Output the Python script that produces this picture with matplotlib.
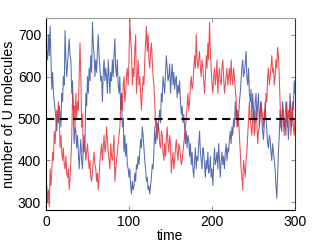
import matplotlib
matplotlib.use("Agg")
import matplotlib.pyplot as plt

time = list(range(0, 301))

blue_v = [620, 660, 640, 700, 650, 720, 640, 570, 610, 560,
          540, 520, 500, 470, 510, 490, 530, 510, 480, 560,
          540, 600, 580, 710, 640, 600, 630, 660, 690, 650,
          640, 560, 590, 510, 440, 480, 470, 430, 460, 420,
          380, 420, 450, 400, 380, 440, 420, 450, 560, 530,
          600, 560, 620, 590, 650, 610, 730, 680, 650, 600,
          640, 610, 660, 700, 650, 620, 590, 600, 540, 610,
          640, 590, 620, 600, 560, 640, 600, 560, 610, 590,
          640, 600, 650, 690, 620, 600, 640, 580, 560, 600,
          520, 560, 480, 500, 420, 460, 410, 440, 390, 380,
          360, 380, 340, 320, 350, 330, 340, 370, 350, 390,
          380, 410, 390, 420, 450, 430, 480, 460, 430, 400,
          380, 350, 360, 330, 340, 320, 340, 360, 390, 380,
          420, 480, 440, 460, 490, 470, 500, 520, 490, 560,
          540, 600, 580, 560, 610, 650, 620, 590, 600, 630,
          560, 600, 630, 580, 610, 570, 590, 600, 550, 580,
          560, 590, 540, 510, 530, 490, 510, 480, 440, 470,
          430, 460, 450, 410, 440, 390, 420, 380, 360, 400,
          430, 380, 410, 400, 440, 470, 420, 400, 380, 430,
          420, 390, 360, 400, 380, 420, 370, 380, 410, 360,
          380, 340, 390, 430, 390, 400, 420, 380, 440, 400,
          360, 400, 420, 390, 410, 380, 420, 440, 400, 430,
          420, 450, 470, 440, 480, 460, 500, 480, 540, 500,
          520, 480, 500, 540, 560, 590, 620, 640, 600, 610,
          630, 660, 600, 580, 620, 560, 540, 570, 500, 560,
          520, 490, 540, 560, 500, 530, 560, 480, 520, 540,
          500, 470, 450, 490, 540, 500, 470, 440, 430, 460,
          450, 420, 400, 440, 420, 400, 380, 340, 310, 360,
          420, 460, 520, 480, 470, 540, 520, 480, 500, 460,
          540, 500, 450, 490, 560, 520, 480, 540, 520, 590,
          560]

red_v = [320, 340, 300, 330, 290, 380, 340, 370, 420, 400,
         470, 440, 480, 520, 500, 540, 500, 430, 460, 420,
         400, 430, 390, 380, 410, 370, 360, 380, 330, 360,
         400, 450, 560, 520, 530, 480, 560, 500, 540, 520,
         600, 680, 600, 480, 510, 420, 460, 440, 400, 420,
         440, 410, 380, 400, 360, 350, 370, 400, 420, 390,
         380, 350, 370, 330, 360, 400, 420, 440, 400, 430,
         460, 420, 430, 480, 450, 420, 400, 380, 440, 410,
         400, 430, 460, 350, 380, 400, 420, 440, 460, 480,
         520, 560, 520, 580, 600, 540, 560, 600, 620, 580,
         640, 740, 690, 660, 580, 620, 600, 660, 700, 560,
         600, 640, 580, 600, 560, 520, 560, 600, 580, 640,
         680, 720, 660, 700, 640, 620, 660, 680, 640, 600,
         580, 540, 480, 500, 450, 470, 480, 440, 430, 470,
         460, 420, 400, 440, 410, 450, 480, 440, 420, 460,
         440, 370, 400, 420, 380, 400, 430, 450, 420, 400,
         440, 430, 410, 390, 400, 420, 440, 460, 480, 500,
         530, 560, 520, 540, 580, 600, 570, 580, 620, 650,
         620, 700, 640, 620, 640, 660, 620, 600, 640, 620,
         590, 560, 600, 650, 620, 680, 640, 730, 660, 620,
         580, 560, 600, 620, 580, 600, 640, 560, 600, 620,
         590, 580, 620, 640, 600, 560, 580, 600, 620, 580,
         600, 620, 580, 640, 600, 580, 620, 600, 570, 550,
         480, 520, 500, 460, 420, 380, 360, 330, 400, 380,
         360, 400, 420, 460, 500, 540, 500, 480, 460, 500,
         520, 460, 480, 520, 490, 440, 470, 480, 500, 540,
         520, 500, 480, 520, 500, 560, 540, 600, 620, 580,
         600, 620, 650, 610, 620, 580, 600, 640, 620, 670,
         650, 600, 540, 480, 510, 520, 490, 460, 500, 540,
         500, 480, 520, 500, 540, 460, 490, 530, 480, 460,
         500]

x_ticks = [0, 100, 200, 300]
y_ticks = [300, 400, 500, 600, 700]
ref_level = 500

plt.rcParams['font.family'] = ['Liberation Sans', 'DejaVu Sans']
fig = plt.figure(figsize=(3.26, 2.45), dpi=100)
ax = fig.add_axes([0.141, 0.143, 0.764, 0.784])
ax.plot(time, blue_v, color='#2c4a9e', lw=0.75, alpha=0.8)
ax.plot(time, red_v, color='#e8202a', lw=0.75, alpha=0.8)
ax.axhline(ref_level, color='black', lw=1.5, ls=(0, (4, 2.5)))
ax.set_xlim(0, 300)
ax.set_ylim(282, 740)
ax.set_xticks(x_ticks)
ax.set_yticks(y_ticks)
ax.tick_params(direction='in', length=3, top=True, right=True, labelsize=10, width=0.6, color='#777777')
ax.set_xlabel('time', fontsize=10, labelpad=0)
ax.set_ylabel('number of U molecules', fontsize=10.3, labelpad=1)
for s in ax.spines.values():
    s.set_linewidth(0.8)
ax.spines['top'].set_color('#999999')
ax.spines['right'].set_color('#333333')
fig.savefig('out.png', dpi=100)
